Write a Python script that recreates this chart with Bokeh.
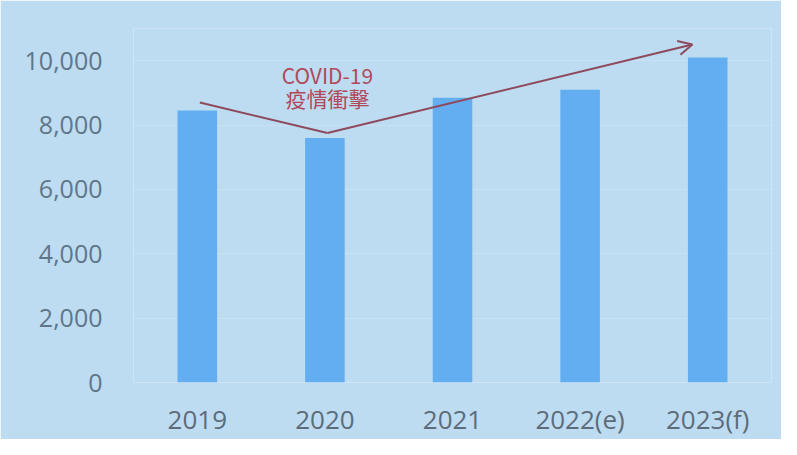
from bokeh.plotting import figure
from bokeh.models import Range1d, FixedTicker, NumeralTickFormatter, Arrow, OpenHead
from bokeh.embed import file_html
from bokeh.resources import INLINE
from bokeh.core.properties import value

categories = ["2019", "2020", "2021", "2022(e)", "2023(f)"]
values = [8450, 7600, 8850, 9100, 10100]
y_ticks = [0, 2000, 4000, 6000, 8000, 10000]

# trend arrow (x in category index, y in data units)
trend_x = [0.02, 1.02, 3.88]
trend_y = [8700, 7750, 10500]
note_lines = ["COVID-19", "疫情衝擊"]
note_x = [1.02, 1.02]
note_y = [9540, 8840]

BG = "#bddcf1"
x_idx = list(range(len(categories)))

p = figure(width=781, height=439, output_backend="svg", toolbar_location=None,
           x_range=Range1d(-0.5, len(categories) - 0.5), y_range=Range1d(0, 11000),
           min_border_left=133, min_border_right=10, min_border_top=28, min_border_bottom=57)
p.background_fill_color = BG
p.border_fill_color = BG
p.outline_line_color = None

p.vbar(x=x_idx, top=values, bottom=0, width=0.31, fill_color="#63adf1", line_color=None)

# grid
p.xgrid.grid_line_color = None
p.ygrid.grid_line_color = "#c9e2f3"
p.ygrid.grid_line_width = 1
p.ygrid.ticker = FixedTicker(ticks=y_ticks)

# axes
p.yaxis.ticker = FixedTicker(ticks=y_ticks)
p.yaxis.formatter = NumeralTickFormatter(format="0,0")
p.xaxis.ticker = FixedTicker(ticks=x_idx)
p.xaxis.major_label_overrides = {i: c for i, c in enumerate(categories)}
for ax in (p.xaxis, p.yaxis):
    ax.axis_line_color = None
    ax.major_tick_line_color = None
    ax.minor_tick_line_color = None
    ax.major_tick_out = 0
    ax.major_tick_in = 0
    ax.major_label_text_font = "Open Sans"
p.yaxis.major_label_text_font_size = "25px"
p.yaxis.major_label_text_color = "#5f7689"
p.yaxis.major_label_standoff = 31
p.xaxis.major_label_text_font_size = "26px"
p.xaxis.major_label_text_color = "#5d6c7b"
p.xaxis.major_label_standoff = 18

# trend line and arrow
p.line(x=trend_x[:2], y=trend_y[:2], line_color="#8e4a5c", line_width=2)
p.add_layout(Arrow(end=OpenHead(size=14, line_color="#8e4a5c", line_width=2),
                   x_start=trend_x[1], y_start=trend_y[1], x_end=trend_x[2], y_end=trend_y[2],
                   line_color="#8e4a5c", line_width=2))

# annotation text
p.text(x=note_x, y=note_y, text=note_lines, text_align="center", text_baseline="middle",
       text_font=value("Noto Sans CJK TC"), text_font_size="21px", text_color="#b0485a")

open("out.html", "w").write(file_html(p, INLINE))
